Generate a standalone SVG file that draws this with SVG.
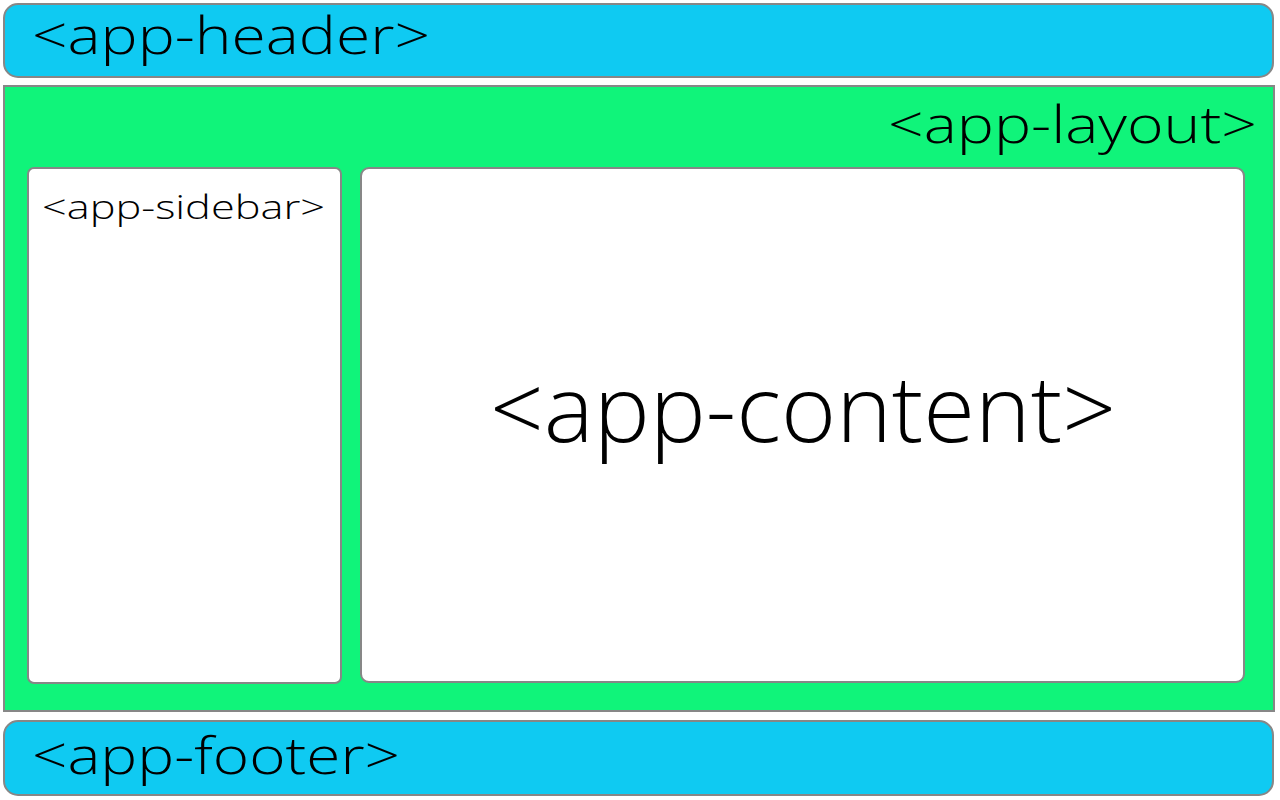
<svg xmlns="http://www.w3.org/2000/svg" width="1280" height="800" viewBox="0 0 1280 800">
<style>
.box{stroke:#878787;stroke-width:2}
.blue{fill:#0fcaf2}
.green{fill:#10f47a}
.white{fill:#ffffff}
text{font-family:"Open Sans","Noto Sans","Liberation Sans",sans-serif;font-weight:300;fill:#000}
</style>
<rect width="1280" height="800" fill="#ffffff"/>
<g id="app-header">
<rect class="box blue" x="4" y="4" width="1269" height="73" rx="14"/>
<text x="32" y="54" font-size="51" textLength="398" lengthAdjust="spacingAndGlyphs">&lt;app-header&gt;</text>
</g>
<g id="app-layout">
<rect class="box green" x="4" y="86" width="1270" height="625"/>
<text x="888" y="143" font-size="51" textLength="369" lengthAdjust="spacingAndGlyphs">&lt;app-layout&gt;</text>
</g>
<g id="app-sidebar">
<rect class="box white" x="28" y="168" width="313" height="515" rx="6"/>
<text x="42" y="219" font-size="33" textLength="283" lengthAdjust="spacingAndGlyphs">&lt;app-sidebar&gt;</text>
</g>
<g id="app-content">
<rect class="box white" x="361" y="168" width="883" height="514" rx="8"/>
<text x="490" y="442" font-size="93" textLength="626" lengthAdjust="spacingAndGlyphs">&lt;app-content&gt;</text>
</g>
<g id="app-footer">
<rect class="box blue" x="4" y="721" width="1269" height="74" rx="14"/>
<text x="32" y="774" font-size="51" textLength="368" lengthAdjust="spacingAndGlyphs">&lt;app-footer&gt;</text>
</g>
<g id="connectors"/>
</svg>
